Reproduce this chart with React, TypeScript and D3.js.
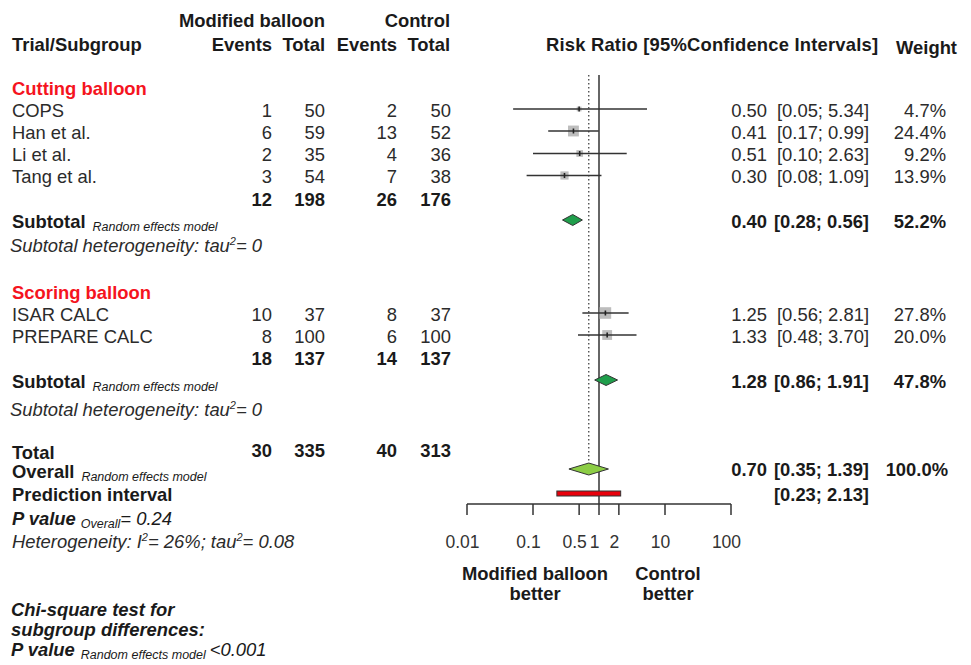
import React from "react";
import * as d3 from "d3";

// ---- data ----
const groupNames = ["Cutting balloon", "Scoring balloon"];
const studyNames = ["COPS", "Han et al.", "Li et al.", "Tang et al.", "ISAR CALC", "PREPARE CALC"];
const studyGroup = [0, 0, 0, 0, 1, 1];
const modEvents = [1, 6, 2, 3, 10, 8];
const modTotal = [50, 59, 35, 54, 37, 100];
const ctrlEvents = [2, 13, 4, 7, 8, 6];
const ctrlTotal = [50, 52, 36, 38, 37, 100];
const studyRR = [0.5, 0.41, 0.51, 0.3, 1.25, 1.33];
const studyLower = [0.05, 0.17, 0.1, 0.08, 0.56, 0.48];
const studyUpper = [5.34, 0.99, 2.63, 1.09, 2.81, 3.7];
const studyWeight = [4.7, 24.4, 9.2, 13.9, 27.8, 20.0];

const subgroupRR = [0.4, 1.28];
const subgroupLower = [0.28, 0.86];
const subgroupUpper = [0.56, 1.91];
const subgroupWeight = [52.2, 47.8];
const subgroupTau2 = ["0", "0"];

const overallRR = [0.7];
const overallCI = [0.35, 1.39];
const overallWeight = [100.0];
const predictionCI = [0.23, 2.13];
const pOverall = "0.24";
const heterogeneityI2 = "26%";
const heterogeneityTau2 = "0.08";
const pSubgroupDiff = "<0.001";

const axisTicks = [0.01, 0.1, 0.5, 1, 2, 10, 100];

// ---- layout ----
const FONT = "'Liberation Sans', Arial, Helvetica, sans-serif";
const FS = 18.4;
const BASE = 6.5; // baseline offset from row centre
const INK = "#1a1a1a";
const GREY = "#2b2b2b";
const RED = "#f5141e";

const x = d3.scaleLog().domain([0.01, 100]).range([467, 731]);

const studyRows = [110, 132, 154.5, 176.5, 314, 336];
const groupHeadRows = [88, 292];
const groupTotalRows = [199, 358];
const subtotalRows = [221, 381];
const hetRows = [245, 409];
const totalRow = 450;
const overallRow = 471;
const predRow = 494;
const pRow = 518;
const hetRow = 541;
const axisY = 504;

const colModEv = 272;
const colModN = 325;
const colCtrlEv = 397;
const colCtrlN = 451;
const colRR = 767;
const colCI = 869;
const colW = 946;

const fmt2 = d3.format(".2f");
const fmtW = (w: number) => d3.format(".1f")(w) + "%";
const ci = (lo: number, hi: number) => `[${fmt2(lo)}; ${fmt2(hi)}]`;

function diamondPath(est: number, lo: number, hi: number, cy: number, h: number) {
  const p = d3.path();
  p.moveTo(x(lo), cy);
  p.lineTo(x(est), cy - h / 2);
  p.lineTo(x(hi), cy);
  p.lineTo(x(est), cy + h / 2);
  p.closePath();
  return p.toString();
}

export default function App() {
  const groupSums = groupNames.map((_, g) => {
    const idx = studyNames.map((_, i) => i).filter((i) => studyGroup[i] === g);
    return {
      me: d3.sum(idx, (i) => modEvents[i]),
      mn: d3.sum(idx, (i) => modTotal[i]),
      ce: d3.sum(idx, (i) => ctrlEvents[i]),
      cn: d3.sum(idx, (i) => ctrlTotal[i]),
    };
  });
  const totals = {
    me: d3.sum(modEvents),
    mn: d3.sum(modTotal),
    ce: d3.sum(ctrlEvents),
    cn: d3.sum(ctrlTotal),
  };

  const numCols = (vals: number[], cy: number, bold: boolean, key: string) =>
    [colModEv, colModN, colCtrlEv, colCtrlN].map((cx, k) => (
      <text
        key={key + k}
        x={cx}
        y={cy + BASE}
        textAnchor="end"
        fontWeight={bold ? "bold" : "normal"}
        fill={bold ? INK : GREY}
      >
        {vals[k]}
      </text>
    ));

  const subLabel = (label: string, cy: number, key: string) => (
    <text key={key} x={12} y={cy + BASE} fill={INK}>
      <tspan fontWeight="bold">{label}</tspan>
      <tspan dx={7} dy={3} fontSize={12.5} fontStyle="italic">
        Random effects model
      </tspan>
    </text>
  );

  const tau = (prefix: string, val: string, cy: number, key: string) => (
    <text key={key} x={10} y={cy + BASE} fontStyle="italic" fill={GREY}>
      {prefix}tau
      <tspan dy={-7} fontSize={11}>2</tspan>
      <tspan dy={7}>= {val}</tspan>
    </text>
  );

  return (
    <svg
      width={971}
      height={665}
      style={{ position: "absolute", left: 0, top: 0, background: "#fff" }}
      fontFamily={FONT}
      fontSize={FS}
    >
      {/* column headers */}
      <text x={colModN} y={26.5} textAnchor="end" fontWeight="bold" fill={INK}>
        Modified balloon
      </text>
      <text x={colCtrlN - 1} y={26.5} textAnchor="end" fontWeight="bold" fill={INK}>
        Control
      </text>
      <text x={12} y={51} fontWeight="bold" fill={INK}>Trial/Subgroup</text>
      {["Events", "Total", "Events", "Total"].map((t, k) => (
        <text
          key={"h" + k}
          x={[colModEv, colModN, colCtrlEv, colCtrlN - 1][k]}
          y={51}
          textAnchor="end"
          fontWeight="bold"
          fill={INK}
        >
          {t}
        </text>
      ))}
      <text x={546} y={51} fontWeight="bold" fill={INK} textLength={332} lengthAdjust="spacing">
        Risk Ratio [95%Confidence Intervals]
      </text>
      <text x={957} y={54} textAnchor="end" fontWeight="bold" fill={INK}>Weight</text>

      {/* reference lines */}
      <line x1={x(1)} x2={x(1)} y1={75} y2={axisY} stroke="#333" strokeWidth={1.5} />
      <line
        x1={x(overallRR[0])}
        x2={x(overallRR[0])}
        y1={75}
        y2={overallRow - 6}
        stroke="#333"
        strokeWidth={1.2}
        strokeDasharray="1.5,2.5"
      />

      {/* subgroups */}
      {groupNames.map((g, gi) => (
        <g key={g}>
          <text x={12} y={groupHeadRows[gi] + BASE} fontWeight="bold" fill={RED}>
            {g}
          </text>
          {numCols(
            [groupSums[gi].me, groupSums[gi].mn, groupSums[gi].ce, groupSums[gi].cn],
            groupTotalRows[gi],
            true,
            "gs" + gi
          )}
          {subLabel("Subtotal", subtotalRows[gi], "sl" + gi)}
          <path
            d={diamondPath(subgroupRR[gi], subgroupLower[gi], subgroupUpper[gi], subtotalRows[gi] - 1, 11)}
            fill="#1f9e4b"
            stroke="#333"
            strokeWidth={1}
          />
          <text x={colRR} y={subtotalRows[gi] + BASE} textAnchor="end" fontWeight="bold" fill={INK}>
            {fmt2(subgroupRR[gi])}
          </text>
          <text x={colCI} y={subtotalRows[gi] + BASE} textAnchor="end" fontWeight="bold" fill={INK}>
            {ci(subgroupLower[gi], subgroupUpper[gi])}
          </text>
          <text x={colW} y={subtotalRows[gi] + BASE} textAnchor="end" fontWeight="bold" fill={INK}>
            {fmtW(subgroupWeight[gi])}
          </text>
          {tau("Subtotal heterogeneity: ", subgroupTau2[gi], hetRows[gi], "t" + gi)}
        </g>
      ))}

      {/* studies */}
      {studyNames.map((s, i) => {
        const cy = studyRows[i];
        const ly = cy - 1;
        const side = 2.2 * Math.sqrt(studyWeight[i]);
        return (
          <g key={s}>
            <text x={12} y={cy + BASE} fill={GREY}>{s}</text>
            {numCols([modEvents[i], modTotal[i], ctrlEvents[i], ctrlTotal[i]], cy, false, "s" + i)}
            <rect
              x={x(studyRR[i]) - side / 2}
              y={ly - side / 2}
              width={side}
              height={side}
              fill="#bdbdbd"
            />
            <line x1={x(studyLower[i])} x2={x(studyUpper[i])} y1={ly} y2={ly} stroke="#333" strokeWidth={1.5} />
            <line x1={x(studyRR[i])} x2={x(studyRR[i])} y1={ly - 2.5} y2={ly + 2.5} stroke="#222" strokeWidth={1.6} />
            <text x={colRR} y={cy + BASE} textAnchor="end" fill={GREY}>{fmt2(studyRR[i])}</text>
            <text x={colCI} y={cy + BASE} textAnchor="end" fill={GREY}>
              {ci(studyLower[i], studyUpper[i])}
            </text>
            <text x={colW} y={cy + BASE} textAnchor="end" fill={GREY}>{fmtW(studyWeight[i])}</text>
          </g>
        );
      })}

      {/* overall */}
      <text x={12} y={totalRow + BASE + 2} fontWeight="bold" fill={INK}>Total</text>
      {numCols([totals.me, totals.mn, totals.ce, totals.cn], totalRow, true, "tot")}
      {subLabel("Overall", overallRow, "ov")}
      <text x={12} y={predRow + BASE} fontWeight="bold" fill={INK}>Prediction interval</text>
      <path
        d={diamondPath(overallRR[0], overallCI[0], overallCI[1], overallRow - 2, 12)}
        fill="#8ccd45"
        stroke="#333"
        strokeWidth={1}
      />
      <rect
        x={x(predictionCI[0])}
        y={predRow - 3}
        width={x(predictionCI[1]) - x(predictionCI[0])}
        height={5}
        fill="#e8000b"
        stroke="#333"
        strokeWidth={1}
      />
      <text x={colRR} y={overallRow + BASE - 2} textAnchor="end" fontWeight="bold" fill={INK}>
        {fmt2(overallRR[0])}
      </text>
      <text x={colCI} y={overallRow + BASE - 2} textAnchor="end" fontWeight="bold" fill={INK}>
        {ci(overallCI[0], overallCI[1])}
      </text>
      <text x={colW + 2} y={overallRow + BASE - 2} textAnchor="end" fontWeight="bold" fill={INK}>
        {fmtW(overallWeight[0])}
      </text>
      <text x={colCI} y={predRow + BASE} textAnchor="end" fontWeight="bold" fill={INK}>
        {ci(predictionCI[0], predictionCI[1])}
      </text>

      <text x={12} y={pRow + BASE} fontStyle="italic" fill={INK}>
        <tspan fontWeight="bold">P value</tspan>
        <tspan dx={5} dy={3} fontSize={12.5}>Overall</tspan>
        <tspan dy={-3}>= {pOverall}</tspan>
      </text>
      <text x={12} y={hetRow + BASE} fontStyle="italic" fill={GREY}>
        Heterogeneity: I<tspan dy={-7} fontSize={11}>2</tspan>
        <tspan dy={7}>= {heterogeneityI2}; tau</tspan>
        <tspan dy={-7} fontSize={11}>2</tspan>
        <tspan dy={7}>= {heterogeneityTau2}</tspan>
      </text>

      {/* axis */}
      <line x1={x(0.01)} x2={x(100)} y1={axisY} y2={axisY} stroke="#333" strokeWidth={1.5} />
      {axisTicks.map((t) => (
        <g key={"tk" + t}>
          <line x1={x(t)} x2={x(t)} y1={axisY} y2={axisY + 11} stroke="#333" strokeWidth={1.5} />
          <text x={x(t) - 4.5} y={548} textAnchor="middle" fontSize={17.5} fill="#333">
            {String(t)}
          </text>
        </g>
      ))}
      <text x={535} y={580} textAnchor="middle" fontWeight="bold" fill={INK}>Modified balloon</text>
      <text x={535} y={600} textAnchor="middle" fontWeight="bold" fill={INK}>better</text>
      <text x={668} y={580} textAnchor="middle" fontWeight="bold" fill={INK}>Control</text>
      <text x={668} y={600} textAnchor="middle" fontWeight="bold" fill={INK}>better</text>

      {/* subgroup difference test */}
      <g fontStyle="italic" fill={INK}>
        <text x={11} y={616} fontWeight="bold">Chi-square test for</text>
        <text x={11} y={636} fontWeight="bold">subgroup differences:</text>
        <text x={11} y={656}>
          <tspan fontWeight="bold">P value</tspan>
          <tspan dx={6} dy={3} fontSize={12.5}>Random effects model</tspan>
          <tspan dx={4} dy={-3}>{pSubgroupDiff}</tspan>
        </text>
      </g>
    </svg>
  );
}
